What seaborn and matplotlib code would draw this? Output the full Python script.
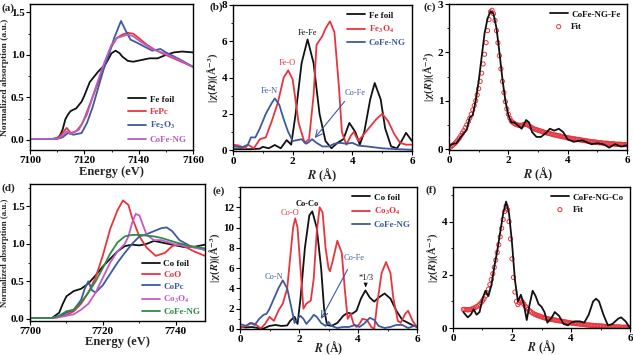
import numpy as np
import matplotlib
matplotlib.use("Agg")
import matplotlib.pyplot as plt
from matplotlib.ticker import AutoMinorLocator
import seaborn as sns

# ---------------- (a) Fe K-edge XANES ----------------
e_fe_foil = [7100, 7108, 7110, 7111, 7112, 7113, 7114, 7115, 7117, 7119, 7120, 7122, 7125, 7128, 7130, 7131.5,
             7133, 7134, 7136, 7138, 7141, 7144, 7147, 7150, 7153, 7156, 7160]
a_fe_foil = [0.01, 0.01, 0.02, 0.05, 0.12, 0.24, 0.3, 0.34, 0.37, 0.45, 0.52, 0.68, 0.8, 0.9, 1.02, 1.05,
             1.02, 0.98, 0.93, 0.92, 0.94, 0.96, 0.96, 1.0, 1.03, 1.04, 1.03]
e_fepc = [7100, 7109, 7111, 7112, 7113.5, 7115, 7117, 7119, 7120, 7123, 7126, 7128, 7130, 7132, 7134, 7136,
          7138, 7140, 7143, 7146, 7150, 7155, 7160]
a_fepc = [0.01, 0.01, 0.04, 0.08, 0.14, 0.08, 0.1, 0.18, 0.25, 0.5, 0.75, 0.95, 1.1, 1.2, 1.24, 1.26,
          1.25, 1.2, 1.12, 1.06, 1.0, 0.93, 0.86]
e_fe2o3 = [7100, 7110, 7112, 7114, 7116, 7119, 7121, 7123, 7125, 7127, 7129, 7131, 7133.5, 7135, 7137, 7139,
           7142, 7145, 7148, 7150, 7155, 7160]
a_fe2o3 = [0.01, 0.01, 0.03, 0.08, 0.06, 0.08, 0.2, 0.38, 0.6, 0.82, 1.0, 1.2, 1.4, 1.3, 1.18, 1.15,
           1.1, 1.05, 1.07, 1.03, 0.95, 0.86]
e_cofe_fe = [7100, 7110, 7112, 7113.5, 7115, 7118, 7121, 7124, 7127, 7130, 7132, 7134, 7136, 7138, 7141,
             7145, 7150, 7155, 7160]
a_cofe_fe = [0.01, 0.01, 0.05, 0.1, 0.07, 0.12, 0.3, 0.6, 0.88, 1.12, 1.2, 1.22, 1.24, 1.22, 1.15,
             1.07, 1.01, 0.94, 0.86]

# ---------------- (b) Fe FT-EXAFS ----------------
r_b_fe = [0, 0.3, 0.6, 0.9, 1.0, 1.2, 1.4, 1.6, 1.8, 1.95, 2.1, 2.3, 2.5, 2.7, 2.9, 3.1, 3.3, 3.5, 3.7,
          3.9, 4.1, 4.25, 4.4, 4.6, 4.75, 4.95, 5.1, 5.3, 5.5, 5.65, 5.8, 6.0]
chi_b_fe = [0.05, 0.05, 0.05, 0.08, 0.18, 0.1, 0.28, 0.1, 0.55, 0.3, 2.0, 4.8, 6.1, 4.8, 2.0, 0.5, 0.1,
            0.4, 0.6, 1.5, 1.0, 0.3, 1.0, 2.8, 3.7, 2.8, 1.2, 0.2, 0.1, 0.5, 0.95, 0.5]
r_b_fe3o4 = [0, 0.2, 0.4, 0.5, 0.7, 0.9, 1.1, 1.3, 1.5, 1.7, 1.85, 2.0, 2.2, 2.4, 2.55, 2.7, 2.8, 3.0, 3.1,
             3.25, 3.4, 3.55, 3.65, 3.8, 3.95, 4.05, 4.2, 4.4, 4.6, 4.8, 5.0, 5.2, 5.4, 5.6, 5.8, 6.0]
chi_b_fe3o4 = [0.3, 0.25, 0.1, 0.3, 0.1, 0.6, 0.7, 1.6, 2.6, 4.0, 4.4, 3.9, 1.5, 0.4, 0.6, 3.0, 5.8, 6.3,
               6.7, 7.1, 6.5, 3.5, 1.0, 0.3, 0.8, 1.0, 0.5, 0.9, 1.3, 1.7, 2.0, 1.6, 0.9, 0.4, 0.3, 0.3]
r_b_cofe = [0, 0.3, 0.5, 0.6, 0.75, 0.9, 1.1, 1.3, 1.4, 1.55, 1.7, 1.85, 2.0, 2.15, 2.3, 2.45, 2.55, 2.65,
            2.8, 3.0, 3.2, 3.4, 3.6, 3.8, 4.0, 4.2, 4.5, 5.0, 5.5, 6.0]
chi_b_cofe = [0.2, 0.15, 0.3, 0.7, 0.7, 1.2, 2.0, 2.6, 2.85, 2.5, 1.7, 1.0, 0.5, 0.55, 0.6, 0.35, 0.45, 0.6,
              0.4, 0.2, 0.2, 0.35, 0.4, 0.35, 0.4, 0.25, 0.2, 0.1, 0.05, 0.02]

# ---------------- (c) Fe fit ----------------
r_c_data = [0, 0.1, 0.25, 0.4, 0.6, 0.7, 0.8, 0.9, 1.0, 1.1, 1.2, 1.3, 1.4, 1.5, 1.6, 1.7, 1.8, 1.9, 2.0,
            2.1, 2.2, 2.3, 2.45, 2.6, 2.7, 2.8, 2.95, 3.1, 3.3, 3.4, 3.55, 3.7, 3.85, 4.0, 4.2, 4.5, 4.8,
            5.0, 5.2, 5.4, 5.6, 5.8, 6.0]
chi_c_data = [0.05, 0.1, 0.12, 0.25, 0.4, 0.65, 0.7, 1.0, 1.4, 1.9, 2.4, 2.7, 2.85, 2.8, 2.5, 2.0, 1.45,
              1.0, 0.7, 0.55, 0.55, 0.5, 0.42, 0.6, 0.55, 0.35, 0.25, 0.25, 0.35, 0.42, 0.38, 0.42, 0.35,
              0.2, 0.15, 0.18, 0.1, 0.12, 0.1, 0.03, 0.1, 0.05, 0.08]
chi_c_fit = [0.02, 0.04, 0.07, 0.09, 0.12, 0.15, 0.19, 0.23, 0.28, 0.33, 0.38, 0.44, 0.50, 0.57, 0.64,
             0.72, 0.81, 0.90, 1.00, 1.12, 1.25, 1.40, 1.57, 1.76, 1.96, 2.20, 2.45, 2.68, 2.84, 2.87,
             2.80, 2.66, 2.45, 2.20, 1.93, 1.66, 1.40, 1.17, 0.98, 0.83, 0.72, 0.64, 0.58, 0.55, 0.53,
             0.51, 0.50, 0.49, 0.49, 0.49, 0.50, 0.51, 0.51, 0.50, 0.48, 0.46, 0.44, 0.42, 0.41, 0.40,
             0.39, 0.38, 0.37, 0.36, 0.35, 0.34, 0.33, 0.33, 0.32, 0.31, 0.30, 0.29, 0.29, 0.28, 0.27,
             0.27, 0.26, 0.25, 0.25, 0.24, 0.23, 0.23, 0.22, 0.22, 0.21, 0.21, 0.20, 0.20, 0.19, 0.19,
             0.18, 0.18, 0.17, 0.17, 0.16, 0.16, 0.15, 0.15, 0.15, 0.14, 0.14, 0.13, 0.13, 0.13, 0.12,
             0.12, 0.12, 0.12, 0.11, 0.11, 0.11, 0.11, 0.10, 0.10, 0.10, 0.10, 0.10, 0.09, 0.09, 0.09,
             0.09]

# ---------------- (d) Co K-edge XANES ----------------
e_co_foil = [7700, 7706, 7708, 7709, 7710, 7712, 7714, 7716, 7718, 7720, 7722, 7724, 7726, 7728, 7730,
             7732, 7734, 7736, 7738, 7740, 7742, 7745, 7748]
a_co_foil = [0.01, 0.01, 0.08, 0.2, 0.3, 0.37, 0.4, 0.47, 0.58, 0.7, 0.8, 0.9, 0.97, 0.99, 0.98,
             1.0, 1.04, 1.02, 1.0, 0.98, 0.96, 0.96, 0.99]
e_coo = [7700, 7706, 7708, 7710, 7712, 7714, 7716, 7718, 7720, 7722, 7724, 7725.5, 7727, 7728, 7730, 7732,
         7734.5, 7737, 7739, 7741, 7743, 7745, 7748]
a_coo = [0.01, 0.01, 0.03, 0.05, 0.1, 0.2, 0.35, 0.55, 0.85, 1.2, 1.45, 1.58, 1.52, 1.35, 1.1, 0.95,
         0.84, 0.88, 0.97, 1.0, 0.95, 0.9, 0.84]
e_copc = [7700, 7706, 7708, 7710, 7712, 7714, 7715, 7716, 7717, 7718, 7720, 7722, 7724, 7726, 7728, 7730,
          7732, 7734, 7736, 7737.5, 7739, 7741, 7744, 7748]
a_copc = [0.01, 0.01, 0.03, 0.08, 0.12, 0.25, 0.4, 0.5, 0.38, 0.35, 0.45, 0.6, 0.75, 0.88, 1.0, 1.1,
          1.13, 1.17, 1.21, 1.22, 1.17, 1.05, 0.97, 0.92]
e_co3o4 = [7700, 7707, 7710, 7712, 7714, 7716, 7718, 7720, 7722, 7724, 7726, 7727, 7728, 7729, 7730,
           7731, 7732, 7734, 7736, 7738, 7740, 7744, 7748]
a_co3o4 = [0.01, 0.01, 0.04, 0.06, 0.12, 0.2, 0.35, 0.55, 0.75, 0.9, 1.0, 1.1, 1.28, 1.4, 1.38,
           1.25, 1.12, 1.05, 1.05, 1.02, 0.99, 0.96, 0.92]
e_cofe_co = [7700, 7706, 7708, 7710, 7712, 7714, 7716, 7718, 7720, 7722, 7724, 7726, 7728, 7730, 7732,
             7734, 7736, 7738, 7740, 7744, 7748]
a_cofe_co = [0.01, 0.01, 0.04, 0.1, 0.12, 0.22, 0.35, 0.5, 0.68, 0.87, 1.02, 1.1, 1.12, 1.12, 1.11,
             1.1, 1.08, 1.05, 1.02, 0.97, 0.94]

# ---------------- (e) Co FT-EXAFS ----------------
r_e_co = [0, 0.2, 0.4, 0.6, 0.8, 1.0, 1.2, 1.4, 1.6, 1.7, 1.85, 1.95, 2.05, 2.2, 2.35, 2.45, 2.6, 2.75,
          2.85, 2.95, 3.1, 3.3, 3.5, 3.65, 3.8, 3.95, 4.1, 4.25, 4.4, 4.55, 4.7, 4.9, 5.1, 5.3, 5.5, 5.7,
          5.9, 6.0]
chi_e_co = [0.2, 0.15, 0.2, 0.1, 0.05, 0.3, 0.4, 0.3, 0.35, 0.8, 1.2, 0.5, 3.0, 8.0, 11.2, 11.6, 10.0,
            6.0, 2.0, 0.4, 0.3, 0.6, 1.3, 1.6, 1.5, 1.8, 3.0, 3.8, 3.1, 2.7, 3.1, 3.5, 3.0, 1.8, 0.9,
            0.6, 0.3, 0.2]
r_e_co3o4 = [0, 0.2, 0.4, 0.55, 0.7, 0.85, 1.0, 1.15, 1.3, 1.45, 1.6, 1.7, 1.8, 1.87, 1.95, 2.05, 2.15,
             2.25, 2.4, 2.5, 2.6, 2.7, 2.8, 2.9, 3.0, 3.05, 3.15, 3.3, 3.45, 3.55, 3.65, 3.75, 3.85, 3.95,
             4.05, 4.15, 4.3, 4.45, 4.55, 4.65, 4.8, 4.95, 5.1, 5.2, 5.35, 5.45, 5.6, 5.7, 5.85, 6.0]
chi_e_co3o4 = [0.1, 0.3, 0.6, 0.4, 0.05, 0.5, 1.2, 0.8, 1.8, 2.5, 4.0, 7.0, 10.0, 10.9, 10.0, 6.0, 2.0,
               2.5, 2.8, 5.0, 9.5, 12.0, 11.5, 8.0, 6.0, 5.7, 6.8, 8.7, 7.5, 4.0, 1.0, 1.5, 0.5, 0.2,
               0.5, 1.0, 0.9, 0.2, 0.0, 2.5, 5.5, 6.6, 5.5, 3.0, 0.8, 0.6, 1.5, 1.8, 0.8, 0.2]
r_e_cofe = [0, 0.2, 0.35, 0.5, 0.65, 0.8, 0.9, 1.0, 1.15, 1.3, 1.45, 1.6, 1.75, 1.85, 1.95, 2.05, 2.15,
            2.25, 2.4, 2.5, 2.6, 2.75, 2.9, 3.0, 3.1, 3.3, 3.5, 3.7, 3.9, 4.05, 4.2, 4.4, 4.55, 4.7, 4.9,
            5.1, 5.3, 5.5, 5.7, 5.9, 6.0]
chi_e_cofe = [0.5, 0.3, 0.6, 0.4, 1.0, 1.4, 1.5, 2.0, 3.0, 4.0, 4.8, 4.0, 2.0, 0.6, 1.0, 1.3, 1.0, 0.5,
              1.0, 1.4, 1.2, 0.6, 0.3, 0.7, 0.3, 0.1, 0.2, 0.2, 0.4, 0.2, 0.5, 1.1, 0.9, 0.3, 0.1, 0.2,
              0.4, 0.4, 0.1, 0.3, 0.25]

# ---------------- (f) Co fit ----------------
r_f_data = [0.35, 0.5, 0.6, 0.7, 0.8, 0.9, 1.0, 1.1, 1.2, 1.3, 1.4, 1.5, 1.6, 1.7, 1.8, 1.9, 2.0, 2.1,
            2.2, 2.3, 2.4, 2.5, 2.6, 2.7, 2.8, 2.9, 3.0, 3.1, 3.2, 3.35, 3.45, 3.6, 3.75, 3.9, 4.0, 4.15,
            4.3, 4.45, 4.6, 4.75, 4.85, 4.95, 5.1, 5.25, 5.4, 5.6, 5.7, 5.85, 6.0]
chi_f_data = [0.6, 0.4, 0.5, 0.7, 0.5, 0.6, 1.1, 1.4, 1.2, 1.6, 2.3, 2.9, 3.6, 4.3, 4.75, 4.3, 3.2, 1.8,
              1.0, 1.25, 0.9, 0.3, 0.9, 1.4, 1.2, 0.9, 0.8, 0.6, 0.2, 0.4, 0.6, 0.45, 0.15, 0.1, 0.2,
              0.25, 0.25, 0.2, 0.5, 1.0, 1.1, 1.0, 0.5, 0.1, 0.15, 0.35, 0.4, 0.25, 0.0]
chi_f_fit = [0.70, 0.70, 0.69, 0.68, 0.69, 0.70, 0.72, 0.74, 0.77, 0.80, 0.84, 0.89, 0.95, 1.02, 1.10,
             1.20, 1.32, 1.46, 1.63, 1.82, 2.04, 2.28, 2.55, 2.84, 3.13, 3.43, 3.75, 4.08, 4.38, 4.58,
             4.45, 4.00, 3.35, 2.60, 1.90, 1.35, 1.00, 0.88, 0.95, 1.02, 0.98, 0.90, 0.82, 0.76, 0.70,
             0.65, 0.60, 0.56, 0.53, 0.50, 0.48, 0.46, 0.44, 0.42, 0.40, 0.38, 0.37, 0.35, 0.34, 0.33,
             0.32, 0.31, 0.30, 0.29, 0.28, 0.27, 0.26, 0.25, 0.24, 0.23, 0.22, 0.21, 0.20, 0.19, 0.18,
             0.18, 0.17, 0.16, 0.16, 0.15, 0.14, 0.14, 0.13, 0.12, 0.12, 0.11, 0.11, 0.10, 0.10, 0.09,
             0.09, 0.08, 0.08, 0.08, 0.07, 0.07, 0.06, 0.06, 0.06, 0.05, 0.05, 0.05, 0.05, 0.04, 0.04,
             0.04, 0.04, 0.03, 0.03, 0.03, 0.03, 0.03, 0.02, 0.02]

# fit curves are sampled on a regular 0.05 A grid
r_c_fit = np.round(0.05 * np.arange(len(chi_c_fit)), 2)
r_f_fit = np.round(0.35 + 0.05 * np.arange(len(chi_f_fit)), 2)

BLACK = "#111111"
RED = "#e8343e"
BLUE = "#3d5a9e"
PURPLE = "#b55ec4"
MAGENTA = "#c659c9"
GREEN = "#2f8a47"

sns.set_theme(style="ticks")
plt.rcParams["font.family"] = ["Liberation Serif", "DejaVu Serif"]
plt.rcParams["font.weight"] = "bold"
plt.rcParams["axes.labelweight"] = "bold"
plt.rcParams["mathtext.fontset"] = "stix"
plt.rcParams["axes.linewidth"] = 1.0
plt.rcParams["axes.edgecolor"] = "black"

fig = plt.figure(figsize=(6.33, 3.55), dpi=100)

W, H = 633.0, 355.0


def add_axes(left, top, right, bottom):
    return fig.add_axes([left / W, 1 - bottom / H, (right - left) / W, (bottom - top) / H])


def style(ax, xlabel, ylabel, xlim, ylim, xticks, yticks, xpad=1, ysize=7.5, xsize=9):
    ax.set_xlim(*xlim)
    ax.set_ylim(*ylim)
    ax.set_xticks(xticks)
    ax.set_yticks(yticks)
    ax.xaxis.set_minor_locator(AutoMinorLocator(2))
    ax.yaxis.set_minor_locator(AutoMinorLocator(2))
    ax.set_xlabel(xlabel, fontsize=xsize, labelpad=xpad)
    ax.set_ylabel(ylabel, fontsize=ysize, labelpad=1)
    ax.tick_params(which="major", direction="out", length=3, width=0.8, labelsize=8, pad=1.0,
                   colors="black")
    ax.tick_params(which="minor", direction="out", length=1.6, width=0.6, colors="black")
    for lab in ax.get_xticklabels() + ax.get_yticklabels():
        lab.set_fontweight("bold")
    for sp in ax.spines.values():
        sp.set_visible(True)
        sp.set_color("black")


def color_legend(ax, colors, loc, **kw):
    opts = dict(frameon=False, fontsize=6.5, handlelength=2.0, handletextpad=0.4,
                labelspacing=0.45, borderaxespad=0.3)
    opts.update(kw)
    leg = ax.legend(loc=loc, **opts)
    for txt, c in zip(leg.get_texts(), colors):
        txt.set_color(c)
        txt.set_fontweight("bold")
    return leg


chi_label = r"|$\mathbf{\chi}$($\mathit{R}$)|(Å$^{-3}$)"
r_label = r"$\mathit{R}$ (Å)"

# (a)
ax = add_axes(30, 4, 193, 150)
for x, y, c, lab in [(e_fe_foil, a_fe_foil, BLACK, "Fe foil"), (e_fepc, a_fepc, RED, "FePc"),
                     (e_fe2o3, a_fe2o3, BLUE, r"Fe$_2$O$_3$"), (e_cofe_fe, a_cofe_fe, PURPLE, "CoFe-NG")]:
    sns.lineplot(x=x, y=y, color=c, linewidth=1.3, label=lab, ax=ax, sort=False)
style(ax, "Energy (eV)", "Normalized absorption (a.u.)", (7100, 7160), (-0.12, 1.6),
      [7100, 7120, 7140, 7160], [0.0, 0.5, 1.0, 1.5], ysize=6.8)
color_legend(ax, [BLACK, RED, BLUE, PURPLE], "lower right")

# (b)
ax = add_axes(233, 5, 412, 151)
for x, y, c, lab in [(r_b_fe, chi_b_fe, BLACK, "Fe foil"), (r_b_fe3o4, chi_b_fe3o4, RED, r"Fe$_3$O$_4$"),
                     (r_b_cofe, chi_b_cofe, BLUE, "CoFe-NG")]:
    sns.lineplot(x=x, y=y, color=c, linewidth=1.3, label=lab, ax=ax, sort=False)
style(ax, r_label, chi_label, (0, 6), (-0.05, 8), [0, 2, 4, 6], [0, 2, 4, 6, 8])
color_legend(ax, [BLACK, RED, BLUE], "upper right")
ax.text(2.49, 6.25, "Fe-Fe", color=BLACK, fontsize=6, ha="center", va="bottom", fontweight="normal")
ax.text(1.81, 4.6, "Fe-O", color=RED, fontsize=6, ha="center", va="bottom", fontweight="normal")
ax.text(1.21, 3.05, "Fe-N", color=BLUE, fontsize=6, ha="center", va="bottom", fontweight="normal")
ax.text(4.08, 2.95, "Co-Fe", color=BLUE, fontsize=6, ha="center", va="bottom", fontweight="normal")
ax.annotate("", xy=(2.68, 0.55), xytext=(3.8, 2.8),
            arrowprops=dict(arrowstyle="->", color=BLUE, lw=0.8))

# (c)
ax = add_axes(449, 4, 627, 150)
sns.lineplot(x=r_c_data, y=chi_c_data, color=BLACK, linewidth=1.3, label="CoFe-NG-Fe", ax=ax, sort=False)
sns.scatterplot(x=r_c_fit, y=chi_c_fit, marker="o", s=9, facecolors="none", edgecolor=RED,
                linewidth=0.7, label="Fit", ax=ax)
style(ax, r_label, chi_label, (0, 6), (-0.02, 3), [0, 2, 4, 6], [0, 1, 2, 3])
color_legend(ax, [BLACK, BLACK], "upper right")

# (d)
ax = add_axes(30, 184, 205, 321)
for x, y, c, lab in [(e_co_foil, a_co_foil, BLACK, "Co foil"), (e_coo, a_coo, RED, "CoO"),
                     (e_copc, a_copc, BLUE, "CoPc"), (e_co3o4, a_co3o4, MAGENTA, r"Co$_3$O$_4$"),
                     (e_cofe_co, a_cofe_co, GREEN, "CoFe-NG")]:
    sns.lineplot(x=x, y=y, color=c, linewidth=1.3, label=lab, ax=ax, sort=False)
style(ax, "Energy (eV)", "Normalized absorption (a.u.)", (7700, 7748), (-0.03, 1.8),
      [7700, 7720, 7740], [0.0, 0.5, 1.0, 1.5], xpad=0, ysize=6.3)
color_legend(ax, [BLACK, RED, BLUE, MAGENTA, GREEN], "lower right", borderaxespad=0.1,
             labelspacing=0.35)

# (e)
ax = add_axes(240, 187, 417, 329)
for x, y, c, lab in [(r_e_co, chi_e_co, BLACK, "Co foil"), (r_e_co3o4, chi_e_co3o4, RED, r"Co$_3$O$_4$"),
                     (r_e_cofe, chi_e_cofe, BLUE, "CoFe-NG")]:
    sns.lineplot(x=x, y=y, color=c, linewidth=1.3, label=lab, ax=ax, sort=False)
style(ax, r_label, chi_label, (0, 6), (0, 14), [0, 2, 4, 6], [0, 2, 4, 6, 8, 10, 12], xpad=-2.5,
      xsize=8.5)
color_legend(ax, [BLACK, RED, BLUE], "upper right")
ax.text(2.27, 11.9, "Co-Co", color=BLACK, fontsize=6, ha="center", va="bottom")
ax.text(1.7, 11.0, "Co-O", color=RED, fontsize=6, ha="center", va="bottom", fontweight="normal")
ax.text(1.14, 4.7, "Co-N", color=BLUE, fontsize=6, ha="center", va="bottom", fontweight="normal")
ax.text(3.86, 6.6, "Co-Fe", color=BLUE, fontsize=6, ha="center", va="bottom", fontweight="normal")
ax.annotate("", xy=(2.7, 0.75), xytext=(3.69, 6.1),
            arrowprops=dict(arrowstyle="->", color=BLUE, lw=0.8))
ax.text(4.26, 4.6, "*1/3", color=BLACK, fontsize=6, ha="center", va="bottom", fontweight="normal")
ax.annotate("", xy=(4.26, 3.85), xytext=(4.26, 4.6),
            arrowprops=dict(arrowstyle="-|>", color=BLACK, lw=0.8, mutation_scale=5))

# (f)
ax = add_axes(453, 187, 630, 328)
sns.lineplot(x=r_f_data, y=chi_f_data, color=BLACK, linewidth=1.3, label="CoFe-NG-Co", ax=ax, sort=False)
sns.scatterplot(x=r_f_fit, y=chi_f_fit, marker="o", s=9, facecolors="none", edgecolor=RED,
                linewidth=0.7, label="Fit", ax=ax)
style(ax, r_label, chi_label, (0, 6), (0, 5.3), [0, 2, 4, 6], [0, 2, 4], xpad=-2.5, xsize=8.5)
color_legend(ax, [BLACK, BLACK], "upper right")

# panel letters
for lab, px, py in [("(a)", 1, 11), ("(b)", 209, 10), ("(c)", 423, 10),
                    ("(d)", 2, 191), ("(e)", 213, 194), ("(f)", 425, 193)]:
    fig.text(px / W, 1 - py / H, lab, fontsize=8, fontweight="bold", ha="left", va="baseline")

fig.savefig("out.png", dpi=100)
